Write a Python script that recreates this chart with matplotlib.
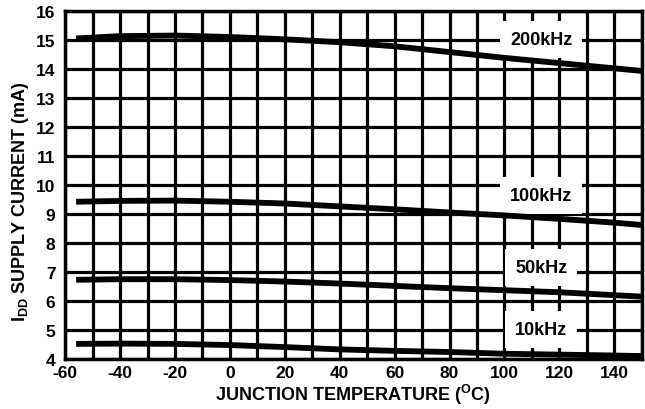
import matplotlib
matplotlib.use('Agg')
import matplotlib.pyplot as plt
import numpy as np

plt.rcParams['font.family'] = ['Liberation Sans', 'DejaVu Sans']
plt.rcParams['font.weight'] = 'bold'
plt.rcParams['axes.unicode_minus'] = False
plt.rcParams['mathtext.fontset'] = 'custom'
plt.rcParams['mathtext.rm'] = 'Liberation Sans:bold'
plt.rcParams['mathtext.bf'] = 'Liberation Sans:bold'

temps = [-56, -40, -20, 0, 20, 40, 60, 80, 100, 120, 140, 150]
i_200k = [15.05, 15.13, 15.15, 15.10, 15.02, 14.92, 14.78, 14.58, 14.38, 14.20, 14.02, 13.93]
i_100k = [9.42, 9.45, 9.46, 9.42, 9.36, 9.26, 9.16, 9.05, 8.95, 8.83, 8.70, 8.62]
i_50k = [6.73, 6.75, 6.75, 6.72, 6.67, 6.60, 6.52, 6.44, 6.37, 6.30, 6.20, 6.15]
i_10k = [4.52, 4.53, 4.52, 4.48, 4.41, 4.33, 4.28, 4.24, 4.18, 4.15, 4.12, 4.10]

labels = ['200kHz', '100kHz', '50kHz', '10kHz']
label_x = 113.3
label_y = [15.0, 9.63, 7.14, 5.03]

x_ticks = list(range(-60, 141, 20))
y_ticks = list(range(4, 17))

fig = plt.figure(figsize=(6.45, 4.10), dpi=100)
ax = fig.add_axes([0.101, 0.122, 0.894, 0.849])

ax.set_xlim(-60, 150)
ax.set_ylim(4, 16)
ax.set_xticks(x_ticks)
ax.set_yticks(y_ticks)
ax.set_xticks(np.arange(-60, 151, 10), minor=True)
ax.grid(True, which='both', color='black', linewidth=2.3)
ax.set_axisbelow(True)
ax.tick_params(which='both', length=0, labelsize=12.5)
ax.tick_params(axis='x', pad=4)
ax.tick_params(axis='y', pad=7)
for s in ax.spines.values():
    s.set_linewidth(2.5)

for series in [i_200k, i_100k, i_50k, i_10k]:
    ax.plot(temps, series, color='black', linewidth=4.2, solid_capstyle='butt', zorder=3)

for lab, ly in zip(labels, label_y):
    ax.text(label_x, ly, lab, ha='center', va='center', fontsize=13, fontweight='bold',
            zorder=2.5, bbox=dict(boxstyle='square,pad=0.55', facecolor='white', edgecolor='none'))

ax.set_xlabel(r'JUNCTION TEMPERATURE ($\mathbf{^{O}}$C)', fontsize=13, fontweight='bold')
ax.set_ylabel(r'I$\mathbf{_{DD}}$ SUPPLY CURRENT (mA)', fontsize=13, fontweight='bold')
ax.xaxis.set_label_coords(0.499, -0.066)
ax.yaxis.set_label_coords(-0.06, 0.454)

fig.savefig('out.png', dpi=100)
